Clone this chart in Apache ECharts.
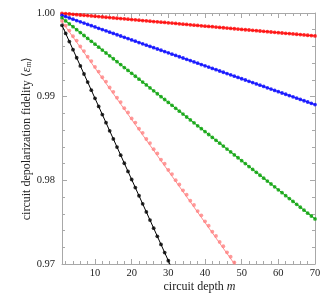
<!DOCTYPE html>
<html>
<head>
<meta charset="utf-8">
<script src="https://cdn.jsdelivr.net/npm/echarts@6/dist/echarts.min.js"></script>
<style>html,body{margin:0;padding:0;background:#fff}#c{width:336px;height:303px}</style>
</head>
<body>
<div id="c"></div>
<script>
// circuit depth m for each marker (index i -> depth[i])
var depth = [1,2,3,4,5,6,7,8,9,10,11,12,13,14,15,16,17,18,19,20,21,22,23,24,25,26,27,28,29,30,
  31,32,33,34,35,36,37,38,39,40,41,42,43,44,45,46,47,48,49,50,51,52,53,54,55,56,57,58,59,60,
  61,62,63,64,65,66,67,68,69,70];

var redPts = [0.99996,0.99992,0.99988,0.99984,0.99980,0.99976,0.99973,0.99969,0.99965,0.99961,
  0.99957,0.99953,0.99949,0.99945,0.99941,0.99937,0.99933,0.99930,0.99926,0.99922,
  0.99918,0.99914,0.99910,0.99906,0.99902,0.99898,0.99894,0.99890,0.99887,0.99883,
  0.99879,0.99875,0.99871,0.99867,0.99863,0.99859,0.99855,0.99851,0.99847,0.99843,
  0.99840,0.99836,0.99832,0.99828,0.99824,0.99820,0.99816,0.99812,0.99808,0.99804,
  0.99800,0.99797,0.99793,0.99789,0.99785,0.99781,0.99777,0.99773,0.99769,0.99765,
  0.99761,0.99757,0.99754,0.99750,0.99746,0.99742,0.99738,0.99734,0.99730,0.99726];

var bluePts = [0.99972,0.99957,0.99941,0.99926,0.99910,0.99895,0.99879,0.99864,0.99848,0.99833,
  0.99817,0.99802,0.99787,0.99771,0.99756,0.99740,0.99725,0.99709,0.99694,0.99678,
  0.99663,0.99647,0.99632,0.99616,0.99601,0.99585,0.99570,0.99555,0.99539,0.99524,
  0.99508,0.99493,0.99477,0.99462,0.99446,0.99431,0.99415,0.99400,0.99384,0.99369,
  0.99354,0.99338,0.99323,0.99307,0.99292,0.99276,0.99261,0.99245,0.99230,0.99214,
  0.99199,0.99183,0.99168,0.99152,0.99137,0.99122,0.99106,0.99091,0.99075,0.99060,
  0.99044,0.99029,0.99013,0.98998,0.98982,0.98967,0.98951,0.98936,0.98920,0.98905];

var greenPts = [0.99940,0.99905,0.99870,0.99836,0.99801,0.99766,0.99731,0.99696,0.99662,0.99627,
  0.99592,0.99557,0.99522,0.99488,0.99453,0.99418,0.99383,0.99348,0.99314,0.99279,
  0.99244,0.99209,0.99174,0.99140,0.99105,0.99070,0.99035,0.99000,0.98966,0.98931,
  0.98896,0.98861,0.98826,0.98792,0.98757,0.98722,0.98687,0.98652,0.98618,0.98583,
  0.98548,0.98513,0.98478,0.98444,0.98409,0.98374,0.98339,0.98304,0.98270,0.98235,
  0.98200,0.98165,0.98130,0.98096,0.98061,0.98026,0.97991,0.97956,0.97922,0.97887,
  0.97852,0.97817,0.97782,0.97748,0.97713,0.97678,0.97643,0.97608,0.97574,0.97539];

var pinkPts = [0.99905,0.99850,0.99790,0.99722,0.99670,0.99600,0.99545,0.99478,0.99425,0.99355,
  0.99300,0.99232,0.99180,0.99110,0.99058,0.98988,0.98935,0.98862,0.98812,0.98740,
  0.98690,0.98618,0.98568,0.98494,0.98445,0.98372,0.98322,0.98248,0.98198,0.98125,
  0.98075,0.98002,0.97950,0.97880,0.97828,0.97757,0.97705,0.97633,0.97582,0.97510,
  0.97458,0.97386,0.97335,0.97264,0.97212,0.97140,0.97088,0.97018];

var blackPts = [0.99853,0.99756,0.99659,0.99562,0.99465,0.99368,0.99271,0.99174,0.99077,0.98980,
  0.98883,0.98786,0.98689,0.98592,0.98495,0.98398,0.98301,0.98204,0.98107,0.98010,
  0.97913,0.97816,0.97719,0.97622,0.97525,0.97428,0.97331,0.97234,0.97137,0.97040];

// fitted lines: [m, value] endpoints
var redFit = [[1, 0.99996], [70, 0.99726]];
var blueFit = [[1, 0.99972], [70, 0.98905]];
var greenFit = [[1, 0.99940], [70, 0.97539]];
var pinkFit = [[1, 0.99897], [49, 0.96941]];
var blackFit = [[1, 0.99853], [31, 0.96943]];

var xMajor = [10, 20, 30, 40, 50, 60, 70];
var xMinor = [2, 4, 6, 8, 12, 14, 16, 18, 22, 24, 26, 28, 32, 34, 36, 38, 42, 44, 46, 48, 52, 54, 56, 58, 62, 64, 66, 68];
var yMajor = [0.97, 0.98, 0.99, 1.00];
var yMinor = [0.972, 0.974, 0.976, 0.978, 0.982, 0.984, 0.986, 0.988, 0.992, 0.994, 0.996, 0.998];

var FONT = 'Liberation Serif';
var AX = '#a8a8a8';

function pts(arr) { return arr.map(function (v, i) { return [depth[i], v]; }); }

function xAx(pos, vals, len, labels, line) {
  return {
    type: 'value', position: pos, min: 1, max: 70,
    axisLine: { show: line, lineStyle: { color: AX, width: 1 } },
    axisTick: { show: true, inside: true, length: len, customValues: vals, lineStyle: { color: AX } },
    axisLabel: labels ? { show: true, customValues: vals, color: '#222', fontFamily: FONT, fontSize: 10.5, margin: 4 } : { show: false },
    splitLine: { show: false }
  };
}
function yAx(pos, vals, len, labels, line) {
  return {
    type: 'value', position: pos, min: 0.97, max: 1.0,
    axisLine: { show: line, onZero: false, lineStyle: { color: AX, width: 1 } },
    axisTick: { show: true, inside: true, length: len, customValues: vals, lineStyle: { color: AX } },
    axisLabel: labels ? { show: true, customValues: vals, color: '#222', fontFamily: FONT, fontSize: 10.5, margin: 7,
      formatter: function (v) { return v.toFixed(2); } } : { show: false },
    splitLine: { show: false }
  };
}

var xAxes = [
  xAx('bottom', xMajor, 5, true, true),
  xAx('bottom', xMinor, 3, false, false),
  xAx('top', xMajor, 5, false, true),
  xAx('top', xMinor, 3, false, false)
];
xAxes[0].name = 'circuit depth {i|m}';
xAxes[0].nameLocation = 'middle';
xAxes[0].nameGap = 17;
xAxes[0].nameMoveOverlap = false;
xAxes[0].nameTextStyle = { color: '#222', fontFamily: FONT, fontSize: 12, padding: [0, 0, 0, 22],
  rich: { i: { fontFamily: FONT, fontSize: 12, fontStyle: 'italic', color: '#222' } } };

var yAxes = [
  yAx('left', yMajor, 5, true, true),
  yAx('left', yMinor, 3, false, false),
  yAx('right', yMajor, 5, false, true),
  yAx('right', yMinor, 3, false, false)
];
yAxes[0].name = 'circuit depolarization fidelity ⟨{e|ε}{s|m}⟩';
yAxes[0].nameLocation = 'middle';
yAxes[0].nameGap = 29;
yAxes[0].nameMoveOverlap = false;
yAxes[0].nameRotate = 90;
yAxes[0].nameTextStyle = { color: '#222', fontFamily: FONT, fontSize: 12,
  rich: {
    e: { fontFamily: FONT, fontSize: 12, fontStyle: 'italic', color: '#222' },
    s: { fontFamily: FONT, fontSize: 8, fontStyle: 'italic', color: '#222', padding: [5, 0, 0, 0] }
  } };

function fit(data, color) {
  return { type: 'line', data: data, showSymbol: false, symbol: 'none', silent: true, clip: true,
    lineStyle: { color: color, width: 1 }, xAxisIndex: 0, yAxisIndex: 0, z: 2 };
}
function marks(data, color, size) {
  return { type: 'scatter', data: pts(data), symbol: 'circle', symbolSize: size, silent: true, clip: true,
    itemStyle: { color: color }, xAxisIndex: 0, yAxisIndex: 0, z: 3 };
}

var chart = echarts.init(document.getElementById('c'), null, { renderer: 'canvas' });
chart.setOption({
  animation: false,
  backgroundColor: '#fff',
  grid: { left: 62, right: 21, top: 13, bottom: 39, containLabel: false },
  xAxis: xAxes,
  yAxis: yAxes,
  series: [
    fit(redFit, '#ff3030'), marks(redPts, '#ff0000', 3.8),
    fit(blueFit, '#3030ff'), marks(bluePts, '#0000ff', 3.8),
    fit(greenFit, '#20a020'), marks(greenPts, '#00a000', 3.8),
    fit(pinkFit, '#ff9090'), marks(pinkPts, '#ff8080', 3.8),
    fit(blackFit, '#000000'), marks(blackPts, '#000000', 3.8)
  ]
});
</script>
</body>
</html>
